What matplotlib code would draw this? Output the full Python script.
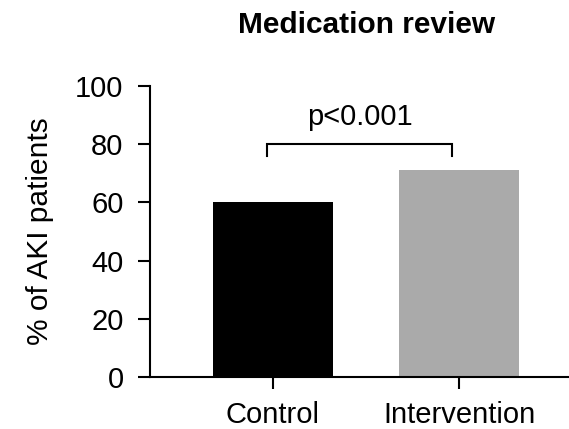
import numpy as np
from matplotlib import pyplot as plt

plt.rcParams['font.family'] = ['Liberation Sans', 'DejaVu Sans']

# data
groups = ['Control', 'Intervention']
values = [60, 71]
colors = ['#000000', '#aaaaaa']
yticks = [0, 20, 40, 60, 80, 100]
p_text = 'p<0.001'

fig = plt.figure(figsize=(5.69, 4.29), dpi=100)
ax = fig.add_axes([150/569, 1 - 377/429, 1 - 150/569, (377 - 86)/429])

x = np.arange(len(groups))
ax.bar(x, values, width=0.645, color=colors, linewidth=0)

ax.set_xlim(-0.66, 1.59)
ax.set_ylim(0, 100)
ax.set_xticks(x)
ax.set_xticklabels(groups)
ax.set_yticks(yticks)

for s in ['top', 'right']:
    ax.spines[s].set_visible(False)
for s in ['left', 'bottom']:
    ax.spines[s].set_linewidth(1.5)
ax.tick_params(axis='both', direction='out', length=8.5, width=1.5,
               labelsize=21, pad=10.5, colors='black')
ax.tick_params(axis='x', pad=8.5)

# significance bracket
bx0, bx1 = x[0] - 0.03, x[1] - 0.04
ax.plot([bx0, bx0, bx1, bx1], [76, 80, 80, 76], color='black', lw=1.5,
        solid_joinstyle='miter', clip_on=False)
ax.text((bx0 + bx1) / 2, 86.6, p_text, ha='center', va='baseline', fontsize=21)

fig.text(40/569, 1 - 231/429, '% of AKI patients', rotation=90,
         ha='center', va='center', fontsize=21.5)
fig.text(367/569, 1 - 33/429, 'Medication review', ha='center', va='baseline',
         fontsize=21.5, fontweight='bold')

fig.savefig('out.png', dpi=100)
